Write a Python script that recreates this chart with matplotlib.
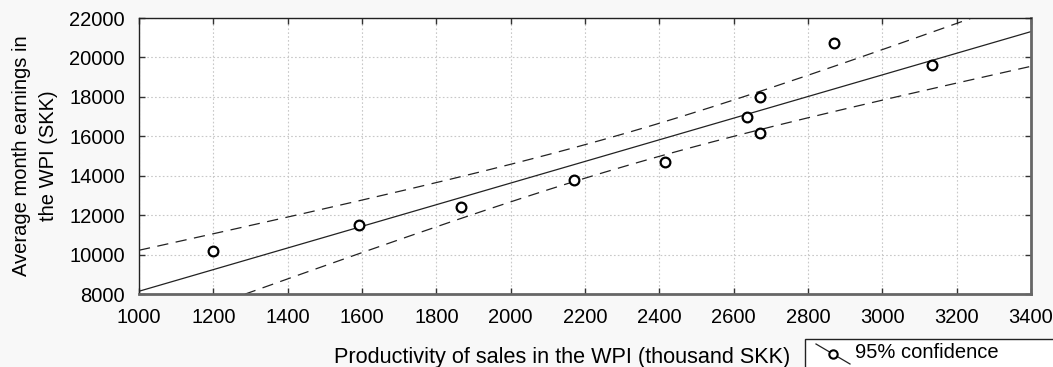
import numpy as np
import matplotlib.pyplot as plt
from matplotlib.lines import Line2D
from matplotlib.patches import Rectangle

# =========================================================
# DATA
# =========================================================

productivity = [1200, 1593, 1867, 2171, 2415, 2637, 2671, 2671, 2869, 3133]
earnings = [10160, 11480, 12400, 13800, 14710, 16960, 17980, 16150, 20720, 19620]

x_ticks = [1000, 1200, 1400, 1600, 1800, 2000, 2200, 2400, 2600, 2800, 3000, 3200, 3400]
y_ticks = [8000, 10000, 12000, 14000, 16000, 18000, 20000, 22000]

T_975_DF8 = 2.306  # Student t, 95 %, n - 2 = 8

FONT = ['Liberation Sans', 'DejaVu Sans']
FS = 14.5

plt.rcParams['font.family'] = FONT

# =========================================================
# REGRESSION + 95% CONFIDENCE BAND
# =========================================================

x = np.array(productivity, dtype=float)
y = np.array(earnings, dtype=float)
n = len(x)

slope, intercept = np.polyfit(x, y, 1)
resid = y - (intercept + slope * x)
s = np.sqrt(np.sum(resid ** 2) / (n - 2))
sxx = np.sum((x - x.mean()) ** 2)

xs = np.linspace(x_ticks[0], x_ticks[-1], 300)
fit = intercept + slope * xs
half = T_975_DF8 * s * np.sqrt(1.0 / n + (xs - x.mean()) ** 2 / sxx)

# =========================================================
# PLOT
# =========================================================

fig = plt.figure(figsize=(10.53, 3.67), dpi=100, facecolor='#f8f8f8')
ax = fig.add_axes([139 / 1053, 73 / 367, 892 / 1053, 276 / 367])
ax.set_facecolor('white')

ax.plot(xs, fit, color='#222222', lw=0.9)
ax.plot(xs, fit + half, color='#222222', lw=0.9, dashes=(9, 6))
ax.plot(xs, fit - half, color='#222222', lw=0.9, dashes=(9, 6))
ax.plot(x, y, 'o', ms=7, mfc='white', mec='black', mew=1.6, zorder=5)

ax.set_xlim(x_ticks[0], x_ticks[-1])
ax.set_ylim(y_ticks[0], y_ticks[-1])
ax.set_xticks(x_ticks)
ax.set_yticks(y_ticks)
ax.tick_params(direction='in', length=4, width=1, top=True, right=True,
               labelsize=FS, colors='#333333', labelcolor='black')
ax.tick_params(axis='x', pad=10)
ax.tick_params(axis='y', pad=10)

ax.grid(True, color='#c8c8c8', linestyle=(0, (1.5, 2)), lw=0.8)
ax.set_axisbelow(True)

for side in ['top', 'left']:
    ax.spines[side].set_color('#222222')
    ax.spines[side].set_linewidth(1.0)
for side in ['bottom', 'right']:
    ax.spines[side].set_color('#666666')
    ax.spines[side].set_linewidth(2.0)

ax.set_ylabel('Average month earnings in\nthe WPI (SKK)', fontsize=FS,
              linespacing=1.55, labelpad=8)

fig.text(790 / 1053, 1 - 357 / 367, 'Productivity of sales in the WPI (thousand SKK)',
         fontsize=15.6, ha='right', va='center')

# legend box, cut by the figure edge as in the source
fig.patches.append(Rectangle((805 / 1053, -0.05), 0.3, 1 - 339 / 367 + 0.05,
                             transform=fig.transFigure, facecolor='white',
                             edgecolor='#222222', lw=1.0))
fig.lines.append(Line2D([816 / 1053, 850 / 1053], [1 - 344 / 367, 1 - 364 / 367],
                        transform=fig.transFigure, color='#222222', lw=0.9))
fig.lines.append(Line2D([833 / 1053], [1 - 354 / 367], transform=fig.transFigure,
                        marker='o', ms=6, mfc='white', mec='black', mew=1.5))
fig.text(855 / 1053, 1 - 353 / 367, '95% confidence', fontsize=FS,
         ha='left', va='center')

fig.savefig('out.png', dpi=100, facecolor=fig.get_facecolor())
